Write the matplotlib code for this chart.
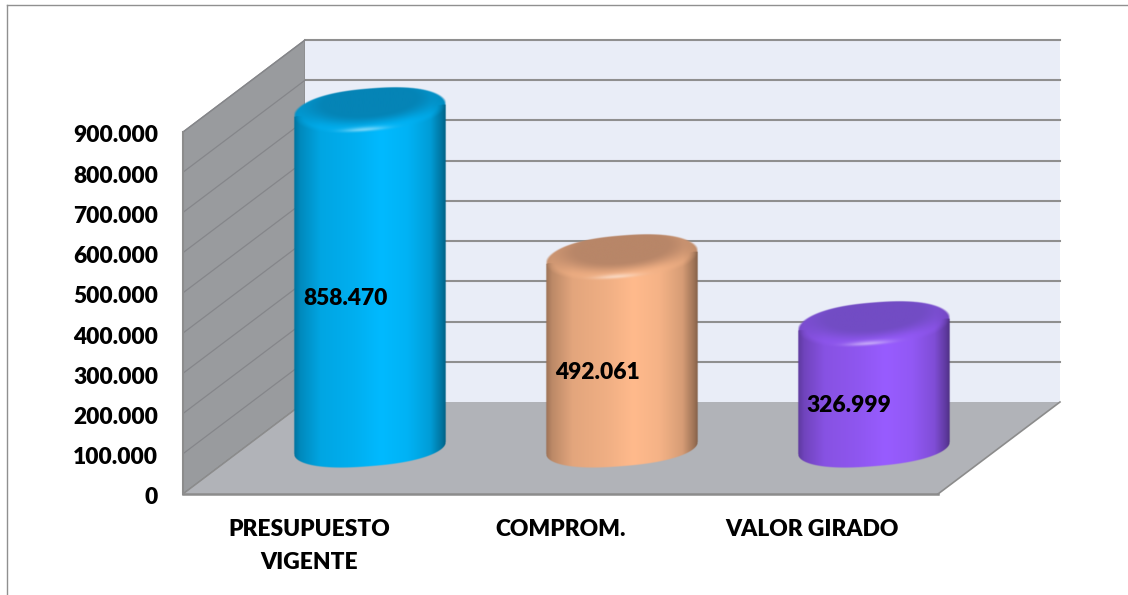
import numpy as np
import matplotlib
matplotlib.use("Agg")
import matplotlib.pyplot as plt
from matplotlib.lines import Line2D
from matplotlib.patches import Polygon
from matplotlib.transforms import ScaledTranslation

categories = ["PRESUPUESTO\nVIGENTE", "COMPROM.", "VALOR GIRADO"]
values = [858470, 492061, 326999]
value_labels = ["858.470", "492.061", "326.999"]
y_ticks = [0, 100000, 200000, 300000, 400000, 500000, 600000, 700000, 800000, 900000]
y_tick_labels = ["0", "100.000", "200.000", "300.000", "400.000", "500.000",
                 "600.000", "700.000", "800.000", "900.000"]

body_colors = [(0, 186, 255), (255, 186, 140), (152, 92, 255)]
cap_colors = [(5, 132, 182), (184, 134, 104), (114, 76, 196)]

W, H = 1128, 595
X0, Y0, X1, Y1 = 183, 494, 938, 132  # front plane in pixels
DEPTH_X, DEPTH_Y = 122, 92  # pixels
LABEL_SIZE = 16.4
LABEL_WEIGHT = "heavy"

plt.rcParams["font.family"] = ["Lato", "DejaVu Sans"]

fig = plt.figure(figsize=(W / 100, H / 100), dpi=100)
ax = fig.add_axes([X0 / W, (H - Y0) / H, (X1 - X0) / W, (Y0 - Y1) / H])
ax.patch.set_visible(False)
for s in ax.spines.values():
    s.set_visible(False)

xlim = (-0.5, 2.5)
ylim = (0, 900000)
px_x = (xlim[1] - xlim[0]) / (X1 - X0)  # data units of one pixel
px_y = (ylim[1] - ylim[0]) / (Y0 - Y1)
dx = DEPTH_X * px_x
dy = DEPTH_Y * px_y

# walls and floor
ax.add_patch(Polygon([(xlim[0], 0), (xlim[0] + dx, dy), (xlim[0] + dx, ylim[1] + dy), (xlim[0], ylim[1])],
                     fc="#999b9e", ec="#8b8c8e", lw=1, clip_on=False, zorder=1))
ax.add_patch(Polygon([(xlim[0] + dx, dy), (xlim[1] + dx, dy), (xlim[1] + dx, ylim[1] + dy), (xlim[0] + dx, ylim[1] + dy)],
                     fc="#e9edf7", ec="none", clip_on=False, zorder=1))
ax.add_patch(Polygon([(xlim[0], 0), (xlim[1], 0), (xlim[1] + dx, dy), (xlim[0] + dx, dy)],
                     fc="#b1b3b8", ec="none", clip_on=False, zorder=2))
for t in y_ticks[1:]:
    ax.plot([xlim[0] + dx, xlim[1] + dx], [t + dy, t + dy], color="#8f8f8f", lw=1.5, clip_on=False, zorder=1.5)
for t in y_ticks:
    ax.plot([xlim[0], xlim[0] + dx], [t, t + dy], color="#85868a", lw=0.9, clip_on=False, zorder=1.5)
ax.plot([xlim[0], xlim[1]], [0, 0], color="#8c8c8c", lw=1.8, clip_on=False, zorder=3)
ax.plot([xlim[0], xlim[0]], [0, ylim[1]], color="#8c8c8c", lw=1.5, clip_on=False, zorder=3)
ax.plot([xlim[1], xlim[1] + dx], [0, dy], color="#8c8c8c", lw=1.2, clip_on=False, zorder=3)
ax.plot([xlim[0], xlim[0] + dx], [0, dy], color="#8c8c8c", lw=1, clip_on=False, zorder=3)

# cylinder shape, in pixels turned into data units
a = 75.5 * px_x
b_top = 22 * px_y
b_base = 18 * px_y
shear = 6 * px_y
sink = 7.5 * px_y
base_y = dy / 2
round_exp = 2.4
knots_u = [-1, -0.92, -0.65, -0.2, 0.15, 0.5, 0.8, 0.95, 1]
shade_u = [0.62, 0.74, 0.89, 0.94, 1.0, 0.96, 0.84, 0.62, 0.52]


def smooth(lo, hi, v):
    t = np.clip((v - lo) / (hi - lo), 0, 1)
    return t * t * (3 - 2 * t)


def draw_cylinder(i, value, body, cap):
    cx = i + dx / 2
    top_y = base_y + value - sink
    y_lo, y_hi = base_y - 1.7 * b_base, top_y + 1.6 * b_top
    nx = 320
    ny = int((y_hi - y_lo) / px_y * 2)
    xs = np.linspace(cx - a * 1.04, cx + a * 1.04, nx)
    ys = np.linspace(y_lo, y_hi, ny)
    xx, yy = np.meshgrid(xs, ys)
    u = (xx - cx) / a
    body_rgb = np.array(body) / 255
    cap_rgb = np.array(cap) / 255
    shade = np.interp(u, knots_u, shade_u)
    img = np.dstack([shade * body_rgb[c] for c in range(3)])

    uc = np.clip(u, -1, 1)
    low = base_y + shear * uc - b_base * np.sqrt(1 - np.abs(uc) ** round_exp)
    side = np.clip((1 - np.abs(u)) * a / px_x + 0.5, 0, 1)
    alpha = side * np.clip((yy - low) / px_y + 0.5, 0, 1)

    # top surface
    w = (yy - top_y - shear * u) / b_top
    e = np.sqrt(np.abs(u) ** round_exp + w ** 2)
    inner = np.sqrt((u / 0.93) ** 2 + (w - 0.42) ** 2)
    t = smooth(0.62, 1.25, inner)
    rim = np.dstack([(0.5 + 0.5 * shade) * 0.97 * body_rgb[c] for c in range(3)])
    top = np.dstack([(1 - t) * cap_rgb[c] + t * rim[..., c] for c in range(3)])
    glow = 0.45 * np.exp(-((u + 0.08) / 0.3) ** 2 - ((w + 0.86) / 0.13) ** 2)[..., None]
    top = top * (1 - glow) + glow
    # the cap fades into the side just under its front edge
    blend = np.clip((1 - e) * b_top / (3 * px_y), 0, 1)[..., None]
    upper = (w >= 0)[..., None]
    img = np.where(upper, top, img * (1 - blend) + top * blend)
    edge = np.clip((1 - e) * b_top / px_y + 0.5, 0, 1)
    alpha = np.where(w > 0, side * edge, alpha)

    rgba = np.dstack([np.clip(img, 0, 1), alpha])
    ax.imshow(rgba, extent=(xs[0], xs[-1], ys[0], ys[-1]), origin="lower", aspect="auto",
              interpolation="bilinear", clip_on=False, zorder=5)


for i, v in enumerate(values):
    draw_cylinder(i, v, body_colors[i], cap_colors[i])
    ax.annotate(value_labels[i], xy=(i + dx / 2, base_y + v / 2), xytext=(-24 * 0.72, -23 * 0.72),
                textcoords="offset points", ha="center", va="center", fontsize=LABEL_SIZE,
                fontweight=LABEL_WEIGHT, color="black", zorder=6, annotation_clip=False)

ax.set_xlim(*xlim)
ax.set_ylim(*ylim)
ax.set_xticks(range(len(categories)))
ax.set_xticklabels(categories, fontsize=LABEL_SIZE, fontweight=LABEL_WEIGHT, linespacing=1.72)
ax.set_yticks(y_ticks)
ax.set_yticklabels(y_tick_labels, fontsize=LABEL_SIZE, fontweight=LABEL_WEIGHT)
ax.tick_params(axis="both", length=0)
ax.tick_params(axis="x", pad=18)
ax.tick_params(axis="y", pad=18)
shift = ScaledTranslation(0, -1.4 / 72, fig.dpi_scale_trans)
for lab in ax.get_yticklabels():
    lab.set_transform(lab.get_transform() + shift)

# frame of the original picture
fig.add_artist(Line2D([6.5 / W, 6.5 / W], [0, 1 - 4.5 / H], color="#909090", lw=1))
fig.add_artist(Line2D([6.5 / W, 1], [1 - 4.5 / H, 1 - 4.5 / H], color="#909090", lw=1))

fig.savefig("out.png", dpi=100)
plt.close(fig)
